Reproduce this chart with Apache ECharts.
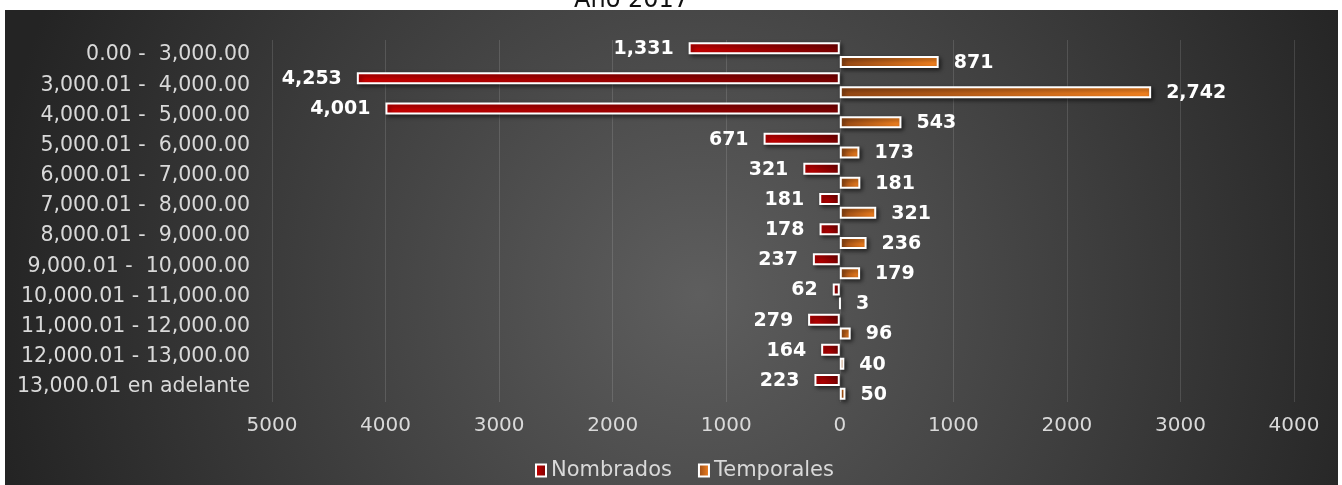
<!DOCTYPE html>
<html>
<head>
<meta charset="utf-8">
<script src="https://cdn.jsdelivr.net/npm/echarts@6/dist/echarts.min.js"></script>
<style>
  html, body { margin: 0; padding: 0; background: #fff; }
  #main { width: 1342px; height: 485px; }
</style>
</head>
<body>
<div id="main"></div>
<script>
var myChart = echarts.init(document.getElementById('main'));

const categories = [
    '0.00 -  3,000.00',
    '3,000.01 -  4,000.00',
    '4,000.01 -  5,000.00',
    '5,000.01 -  6,000.00',
    '6,000.01 -  7,000.00',
    '7,000.01 -  8,000.00',
    '8,000.01 -  9,000.00',
    '9,000.01 -  10,000.00',
    '10,000.01 - 11,000.00',
    '11,000.01 - 12,000.00',
    '12,000.01 - 13,000.00',
    '13,000.01 en adelante'
];
const nombrados = [1331, 4253, 4001, 671, 321, 181, 178, 237, 62, 279, 164, 223];
const temporales = [871, 2742, 543, 173, 181, 321, 236, 179, 3, 96, 40, 50];

const fmt = function (v) {
    return Math.abs(v).toLocaleString('en-US');
};

const labelStyle = {
    show: true,
    color: '#ffffff',
    fontFamily: 'DejaVu Sans',
    fontWeight: 'bold',
    fontSize: 19,
    distance: 15,
    offset: [0, 1],
    formatter: function (p) { return fmt(p.value); }
};

// white border + soft drop shadow, like the office-style bars
const barFrame = {
    borderColor: '#ffffff',
    borderWidth: 2,
    shadowColor: 'rgba(0,0,0,0.55)',
    shadowBlur: 4,
    shadowOffsetX: 2,
    shadowOffsetY: 2
};

let option = {
    backgroundColor: '#ffffff',
    animation: false,
    graphic: [
        {
            type: 'text',
            z: -20,
            left: 574,
            top: -11,
            style: {
                text: 'Año 2017',
                fill: '#111111',
                font: '24px "DejaVu Sans"'
            }
        },
        {
            type: 'rect',
            z: -10,
            silent: true,
            shape: {x: 5, y: 10, width: 1333, height: 475},
            style: {
                fill: {
                    type: 'radial', x: 0.52, y: 0.6, r: 1.5,
                    colorStops: [
                        {offset: 0, color: '#5e5e5e'},
                        {offset: 1, color: '#242424'}
                    ]
                }
            }
        }
    ],
    grid: {left: 272, right: 48, top: 40, bottom: 83},
    legend: {
        left: 530,
        top: 455,
        itemWidth: 10,
        itemHeight: 12,
        itemGap: 26,
        icon: 'rect',
        textStyle: {color: '#d9d9d9', fontFamily: 'DejaVu Sans', fontSize: 21},
        itemStyle: {borderColor: '#ffffff', borderWidth: 2},
        data: ['Nombrados', 'Temporales']
    },
    xAxis: {
        type: 'value',
        min: -5000,
        max: 4000,
        interval: 1000,
        axisLine: {show: false},
        axisTick: {show: false},
        splitLine: {lineStyle: {color: 'rgba(255,255,255,0.13)', width: 1}},
        axisLabel: {
            color: '#d9d9d9',
            fontFamily: 'DejaVu Sans',
            fontSize: 20,
            margin: 14,
            formatter: function (v) { return Math.abs(v); }
        }
    },
    yAxis: {
        type: 'category',
        inverse: true,
        data: categories,
        axisLine: {show: false},
        axisTick: {show: false},
        axisLabel: {
            color: '#d9d9d9',
            fontFamily: 'DejaVu Sans',
            fontSize: 20.5,
            margin: 22
        }
    },
    series: [
        {
            name: 'Nombrados',
            type: 'bar',
            barWidth: 12,
            barGap: '15%',
            data: nombrados.map(function (v) { return -v; }),
            label: Object.assign({}, labelStyle, {position: 'left'}),
            itemStyle: Object.assign({}, barFrame, {
                color: {
                    type: 'linear', x: 0, y: 0, x2: 1, y2: 0,
                    colorStops: [
                        {offset: 0, color: '#cc0000'},
                        {offset: 1, color: '#7a0000'}
                    ]
                }
            })
        },
        {
            name: 'Temporales',
            type: 'bar',
            barWidth: 12,
            barGap: '15%',
            data: temporales,
            label: Object.assign({}, labelStyle, {position: 'right'}),
            itemStyle: Object.assign({}, barFrame, {
                color: {
                    type: 'linear', x: 0, y: 0, x2: 1, y2: 0,
                    colorStops: [
                        {offset: 0, color: '#964814'},
                        {offset: 1, color: '#f78421'}
                    ]
                }
            })
        }
    ]
};

myChart.setOption(option);
</script>
</body>
</html>
